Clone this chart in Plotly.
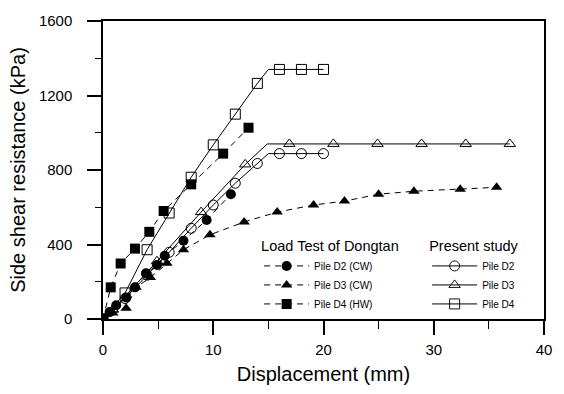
import plotly.graph_objects as go

# ---- Load test of Dongtan (measured) ----
d2_cw_x = [0, 0.6, 1.2, 2.1, 2.9, 3.9, 4.9, 5.6, 7.3, 9.4, 11.6]
d2_cw_y = [0, 37, 74, 115, 170, 245, 290, 340, 420, 532, 670]

d3_cw_x = [0, 0.9, 2.1, 3.0, 4.3, 5.8, 7.3, 9.7, 12.8, 15.8, 19.1, 21.9, 25.0, 28.2, 32.4, 35.7]
d3_cw_y = [0, 32, 58, 170, 223, 300, 372, 452, 521, 574, 612, 633, 670, 686, 697, 707]

d4_hw_x = [0, 0.7, 1.6, 2.9, 4.2, 5.5, 8.0, 10.9, 13.2]
d4_hw_y = [0, 170, 298, 378, 468, 580, 723, 888, 1027]

# ---- Present study (model); 1 = symbol drawn at that vertex ----
p_d2_x = [0, 2, 4, 6, 8, 10, 12, 14, 15, 16, 18, 20]
p_d2_y = [0, 110, 235, 358, 487, 612, 729, 835, 888, 888, 888, 888]
p_d2_m = [1, 1, 1, 1, 1, 1, 1, 1, 0, 1, 1, 1]

p_d3_x = [0, 0.9, 4.9, 8.9, 12.9, 14.9, 16.9, 20.9, 24.9, 28.9, 32.9, 36.9]
p_d3_y = [0, 50, 310, 574, 830, 940, 940, 940, 940, 940, 940, 940]
p_d3_m = [1, 1, 1, 1, 1, 0, 1, 1, 1, 1, 1, 1]

p_d4_x = [0, 2, 4, 6, 8, 10, 12, 14, 15, 16, 18, 20]
p_d4_y = [0, 140, 372, 569, 761, 935, 1100, 1265, 1340, 1340, 1340, 1340]
p_d4_m = [1, 1, 1, 1, 1, 1, 1, 1, 0, 1, 1, 1]

x_ticks = [0, 10, 20, 30, 40]
y_ticks = [0, 400, 800, 1200, 1600]

FONT = "Liberation Sans, Arial, sans-serif"
fig = go.Figure()

dash = "6px,5px"
for name, xs, ys, sym in [
    ("Pile D2 (CW)", d2_cw_x, d2_cw_y, "circle"),
    ("Pile D3 (CW)", d3_cw_x, d3_cw_y, "triangle-up"),
    ("Pile D4 (HW)", d4_hw_x, d4_hw_y, "square"),
]:
    fig.add_trace(go.Scatter(
        x=xs, y=ys, mode="lines+markers", name=name, legend="legend",
        line=dict(color="black", width=1, dash=dash),
        marker=dict(symbol=sym, size=10, color="black"),
    ))

for name, xs, ys, ms, sym in [
    ("Pile D2", p_d2_x, p_d2_y, p_d2_m, "circle-open"),
    ("Pile D3", p_d3_x, p_d3_y, p_d3_m, "triangle-up-open"),
    ("Pile D4", p_d4_x, p_d4_y, p_d4_m, "square-open"),
]:
    fig.add_trace(go.Scatter(
        x=xs, y=ys, mode="lines+markers", name=name, legend="legend2",
        line=dict(color="black", width=1),
        marker=dict(symbol=sym, size=10, color="black", line=dict(width=1, color="black"),
                    opacity=ms),
    ))

axis_common = dict(
    showline=True, linecolor="black", linewidth=1.5, mirror=True,
    ticks="outside", ticklen=14, tickwidth=1.5, tickcolor="black",
    showgrid=False, zeroline=False,
    tickfont=dict(family=FONT, size=15, color="black"),
)

fig.update_xaxes(
    range=[0, 40], tickvals=x_ticks, ticktext=[str(v) for v in x_ticks],
    ticklabelstandoff=2,
    minor=dict(ticks="outside", ticklen=8, tickwidth=1, dtick=5, tickcolor="black"),
    title=dict(text="Displacement (mm)", font=dict(family=FONT, size=20, color="black"), standoff=10),
    **axis_common,
)
fig.update_yaxes(
    range=[0, 1600], tickvals=y_ticks, ticktext=[str(v) for v in y_ticks],
    ticklabelstandoff=12,
    minor=dict(ticks="outside", ticklen=6, tickwidth=1, dtick=200, tickcolor="black"),
    title=dict(text="Side shear resistance (kPa)", font=dict(family=FONT, size=20, color="black"), standoff=8),
    **axis_common,
)

fig.update_layout(
    width=564, height=394,
    margin=dict(l=103, r=12, t=16, b=75),
    paper_bgcolor="white", plot_bgcolor="white",
    font=dict(family=FONT, color="black"),
    legend=dict(
        title=dict(text="Load Test of Dongtan", font=dict(family=FONT, size=14.5)),
        x=0.354, y=0.29, xanchor="left", yanchor="top",
        bgcolor="rgba(0,0,0,0)", itemwidth=45, tracegroupgap=0,
        font=dict(family=FONT, size=10), itemclick=False,
    ),
    legend2=dict(
        title=dict(text="Present study", font=dict(family=FONT, size=14.5)),
        x=0.735, y=0.29, xanchor="left", yanchor="top",
        bgcolor="rgba(0,0,0,0)", itemwidth=45, tracegroupgap=0,
        font=dict(family=FONT, size=10), itemclick=False,
    ),
)

fig.write_html("out.html")
